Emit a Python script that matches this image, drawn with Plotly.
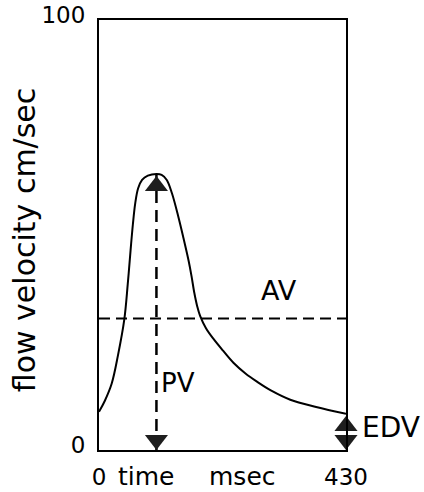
import plotly.graph_objects as go

# ---- data ----
time_ms = [0, 10, 22, 33, 44, 50, 55, 59, 63, 68, 75, 85, 100,
           109, 118, 127, 138, 147, 156, 161, 166, 171, 176, 186,
           199, 216, 234, 255, 275, 300, 333, 378, 430]
velocity = [8.9, 11.4, 15.4, 22.0, 30.3, 38.5, 46.5, 52.5, 57.3, 60.8, 62.8, 63.8, 64.2,
            64.0, 62.8, 59.7, 54.3, 49.3, 44.0, 40.5, 36.5, 33.4, 31.2, 28.4,
            25.9, 23.1, 20.3, 17.8, 15.9, 13.8, 11.7, 10.0, 8.4]

av_value = 30.6          # average velocity (dashed horizontal)
pv_time = 100            # time of peak velocity
pv_value = 64.2          # peak velocity
edv_time = 430           # end diastole
edv_value = 8.4          # end diastolic velocity

x_tick_vals = [0, 430]
x_tick_text = ["0", "430"]
y_tick_vals = [0, 100]
y_tick_text = ["0", "100"]

FONT = "DejaVu Sans"
TRI = 20

fig = go.Figure()

# flow velocity curve
fig.add_trace(go.Scatter(
    x=time_ms, y=velocity, mode="lines",
    line=dict(color="black", width=2, shape="spline", smoothing=1.0),
    hoverinfo="skip", showlegend=False))

# average velocity dashed line
fig.add_trace(go.Scatter(
    x=[0, 430], y=[av_value, av_value], mode="lines",
    line=dict(color="black", width=2, dash="11px,6px"),
    hoverinfo="skip", showlegend=False))

# peak velocity dashed line
fig.add_trace(go.Scatter(
    x=[pv_time, pv_time], y=[0, pv_value], mode="lines",
    line=dict(color="black", width=2.5, dash="12px,7px"),
    hoverinfo="skip", showlegend=False))

# arrow heads (triangles whose tips touch the data points)
fig.add_trace(go.Scatter(
    x=[pv_time, edv_time], y=[pv_value, edv_value], mode="markers",
    marker=dict(symbol="triangle-up", size=TRI, color="#1e1e1e",
                standoff=TRI / 2 + 2, line=dict(width=0)),
    hoverinfo="skip", showlegend=False, cliponaxis=False))
fig.add_trace(go.Scatter(
    x=[pv_time, edv_time], y=[0, 0], mode="markers",
    marker=dict(symbol="triangle-up", size=TRI, color="#1e1e1e", angle=180,
                standoff=TRI / 2, line=dict(width=0)),
    hoverinfo="skip", showlegend=False, cliponaxis=False))

ann_font = dict(family=FONT, size=26, color="black")
big_font = dict(family=FONT, size=27, color="black")
tick_font = dict(family=FONT, size=23, color="black")
word_font = dict(family=FONT, size=25, color="black")

fig.add_annotation(x=pv_time, y=15.5, text="PV", showarrow=False,
                   xanchor="left", xshift=3, font=ann_font)
fig.add_annotation(x=313, y=av_value, text="AV", showarrow=False,
                   yanchor="bottom", yshift=10, font=big_font)
fig.add_annotation(x=edv_time, y=edv_value / 2, text="EDV", showarrow=False,
                   xanchor="left", xshift=14, yshift=4,
                   font=dict(family=FONT, size=28, color="black"))
fig.add_annotation(x=82, y=0, yref="paper", text="time", showarrow=False,
                   yanchor="top", yshift=-10, font=word_font)
fig.add_annotation(x=249, y=0, yref="paper", text="msec", showarrow=False,
                   yanchor="top", yshift=-10, font=word_font)
# y-axis title
fig.add_annotation(x=-0.304, xref="paper", y=0.49, yref="paper",
                   text="flow velocity cm/sec", textangle=-90, showarrow=False,
                   xanchor="center", yanchor="middle",
                   font=dict(family=FONT, size=30, color="black"))

axis_common = dict(showline=True, linecolor="black", linewidth=2, mirror=True,
                   showgrid=False, zeroline=False, ticks="", tickfont=tick_font,
                   fixedrange=True, automargin=False)

fig.update_layout(
    width=424, height=492,
    margin=dict(l=99, r=78, t=20, b=42),
    paper_bgcolor="white", plot_bgcolor="white",
    font=dict(family=FONT, color="black"),
    xaxis=dict(range=[0, 430], tickvals=x_tick_vals, ticktext=x_tick_text,
               ticklabelstandoff=5, **axis_common),
    yaxis=dict(range=[0, 100], tickvals=y_tick_vals, ticktext=y_tick_text,
               ticklabelstandoff=7, ticklabelshift=-5, **axis_common),
)

fig.write_html("out.html")
